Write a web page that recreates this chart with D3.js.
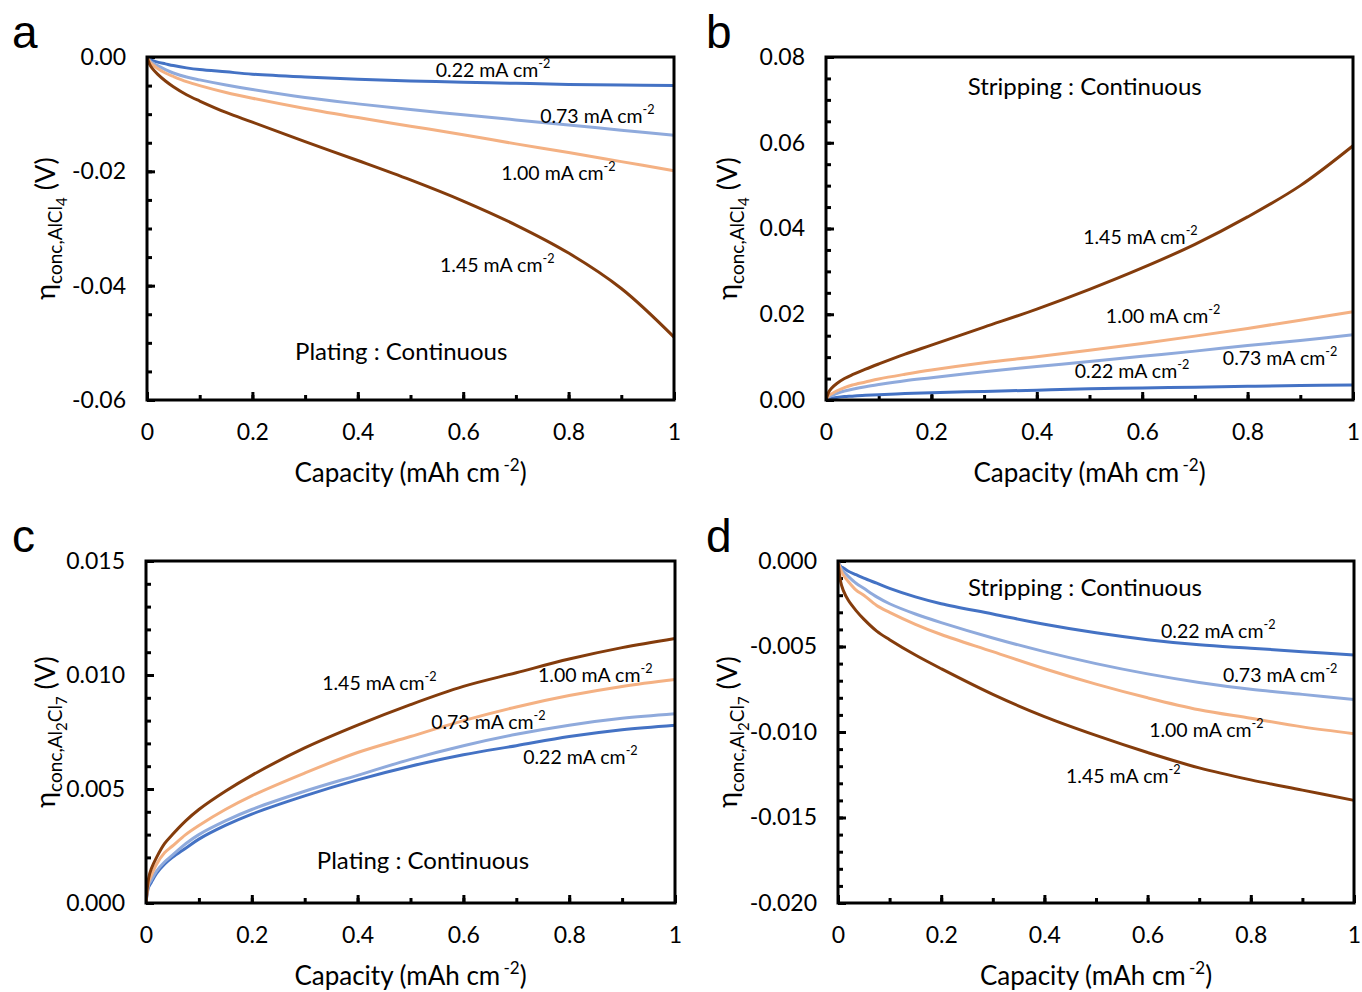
<!DOCTYPE html>
<html>
<head>
<meta charset="utf-8">
<script src="https://cdn.jsdelivr.net/npm/d3@7"></script>
<style>
body{margin:0;background:#fff}
text{font-family:Lato,"Open Sans",sans-serif;fill:#000}
</style>
</head>
<body>
<svg width="1362" height="992"></svg>
<script>
// capacity grid (mAh cm-2) shared by every curve
var capacity = [0, 0.005, 0.01, 0.02, 0.035, 0.05, 0.075, 0.1, 0.15, 0.2, 0.3, 0.4, 0.5, 0.6, 0.7, 0.8, 0.9, 1]
var currents = ["0.22", "0.73", "1.00", "1.45"]
var colors = ["#4472C4", "#8FAADC", "#F4B183", "#843C0C"]

// a : AlCl4, plating
var a022 = [0, -0.0004, -0.0006, -0.0009, -0.0012, -0.0015, -0.0019, -0.0022, -0.0026, -0.0030, -0.0035, -0.0039, -0.0042, -0.0044, -0.0046, -0.0048, -0.0049, -0.0050]
var a073 = [0, -0.0006, -0.0010, -0.0015, -0.0022, -0.0028, -0.0035, -0.0040, -0.0049, -0.0057, -0.0071, -0.0082, -0.0092, -0.0101, -0.0110, -0.0119, -0.0128, -0.0137]
var a100 = [0, -0.0008, -0.0013, -0.0020, -0.0028, -0.0034, -0.0043, -0.0050, -0.0062, -0.0072, -0.0090, -0.0106, -0.0121, -0.0136, -0.0152, -0.0167, -0.0183, -0.0199]
var a145 = [0, -0.0013, -0.0020, -0.0030, -0.0042, -0.0052, -0.0066, -0.0077, -0.0097, -0.0114, -0.0148, -0.0181, -0.0215, -0.0252, -0.0294, -0.0343, -0.0405, -0.0490]

// b : AlCl4, stripping
var b022 = [0, 0.0003, 0.0004, 0.0006, 0.0008, 0.0009, 0.0011, 0.0012, 0.0015, 0.0017, 0.0020, 0.0023, 0.0026, 0.0028, 0.0030, 0.0032, 0.0034, 0.0035]
var b073 = [0, 0.0007, 0.0010, 0.0015, 0.0021, 0.0025, 0.0031, 0.0036, 0.0045, 0.0052, 0.0066, 0.0078, 0.0090, 0.0102, 0.0114, 0.0127, 0.0139, 0.0152]
var b100 = [0, 0.0010, 0.0014, 0.0021, 0.0029, 0.0035, 0.0042, 0.0049, 0.0060, 0.0070, 0.0087, 0.0101, 0.0116, 0.0132, 0.0149, 0.0167, 0.0186, 0.0206]
var b145 = [0, 0.0018, 0.0027, 0.0038, 0.0050, 0.0059, 0.0072, 0.0084, 0.0107, 0.0128, 0.0170, 0.0212, 0.0258, 0.0308, 0.0363, 0.0427, 0.0500, 0.0593]

// c : Al2Cl7, plating
var c022 = [0, 0.0007, 0.0009, 0.0013, 0.0017, 0.0020, 0.0024, 0.0028, 0.0034, 0.0039, 0.0047, 0.0054, 0.0060, 0.0065, 0.0069, 0.0073, 0.0076, 0.0078]
var c073 = [0, 0.0008, 0.0010, 0.0014, 0.0018, 0.0021, 0.0026, 0.0030, 0.0036, 0.0041, 0.0049, 0.0056, 0.0063, 0.0069, 0.0074, 0.0078, 0.0081, 0.0083]
var c100 = [0, 0.0009, 0.0012, 0.0017, 0.0022, 0.0025, 0.0030, 0.0034, 0.0041, 0.0047, 0.0057, 0.0066, 0.0073, 0.0080, 0.0086, 0.0091, 0.0095, 0.0098]
var c145 = [0, 0.0011, 0.0015, 0.0020, 0.0026, 0.0030, 0.0036, 0.0041, 0.0049, 0.0056, 0.0068, 0.0078, 0.0087, 0.0095, 0.0101, 0.0107, 0.0112, 0.0116]

// d : Al2Cl7, stripping
var d022 = [0, -0.0003, -0.0004, -0.0006, -0.0008, -0.0010, -0.0013, -0.0016, -0.0021, -0.0025, -0.0031, -0.0037, -0.0042, -0.0046, -0.0049, -0.0051, -0.0053, -0.0055]
var d073 = [0, -0.0004, -0.0006, -0.0009, -0.0013, -0.0016, -0.0021, -0.0025, -0.0031, -0.0036, -0.0045, -0.0053, -0.0060, -0.0066, -0.0071, -0.0075, -0.0078, -0.0081]
var d100 = [0, -0.0005, -0.0008, -0.0012, -0.0017, -0.0020, -0.0026, -0.0030, -0.0037, -0.0043, -0.0053, -0.0063, -0.0072, -0.0080, -0.0087, -0.0092, -0.0097, -0.0101]
var d145 = [0, -0.0012, -0.0017, -0.0023, -0.0029, -0.0034, -0.0041, -0.0046, -0.0055, -0.0063, -0.0078, -0.0091, -0.0102, -0.0112, -0.0121, -0.0128, -0.0134, -0.0140]

var xTicks = [0, 0.2, 0.4, 0.6, 0.8, 1]
var xTickLabels = ["0", "0.2", "0.4", "0.6", "0.8", "1"]
var aTicks = [0, -0.02, -0.04, -0.06]
var aTickLabels = ["0.00", "-0.02", "-0.04", "-0.06"]
var bTicks = [0, 0.02, 0.04, 0.06, 0.08]
var bTickLabels = ["0.00", "0.02", "0.04", "0.06", "0.08"]
var cTicks = [0, 0.005, 0.01, 0.015]
var cTickLabels = ["0.000", "0.005", "0.010", "0.015"]
var dTicks = [0, -0.005, -0.01, -0.015, -0.02]
var dTickLabels = ["0.000", "-0.005", "-0.010", "-0.015", "-0.020"]

var alcl4 = [["conc,AlCl", 1], ["4", 2]]
var al2cl7 = [["conc,Al", 1], ["2", 2], ["Cl", 1], ["7", 2]]

// panel layout (pixels) and where the annotations sit (data units)
var panels = [
  {id: "a", box: [147, 57, 527, 343], dom: [-0.06, 0], ticks: aTicks, tickLabels: aTickLabels, minor: 0.005,
   series: [a022, a073, a100, a145], ion: alcl4,
   labelPos: [[0.548, -0.0023], [0.746, -0.0103], [0.672, -0.0203], [0.556, -0.0364]],
   note: "Plating : Continuous", notePos: [0.281, -0.0516]},
  {id: "b", box: [826, 57, 527, 343], dom: [0, 0.08], ticks: bTicks, tickLabels: bTickLabels, minor: 0.005,
   series: [b022, b073, b100, b145], ion: alcl4,
   labelPos: [[0.472, 0.0068], [0.753, 0.0098], [0.531, 0.0196], [0.488, 0.0380]],
   note: "Stripping : Continuous", notePos: [0.269, 0.0732]},
  {id: "c", box: [146, 561, 529, 342], dom: [0, 0.015], ticks: cTicks, tickLabels: cTickLabels, minor: 0.001,
   series: [c022, c073, c100, c145], ion: al2cl7,
   labelPos: [[0.713, 0.0064], [0.539, 0.00794], [0.741, 0.0100], [0.333, 0.00965]],
   note: "Plating : Continuous", notePos: [0.323, 0.00184]},
  {id: "d", box: [838, 561, 516, 342], dom: [-0.02, 0], ticks: dTicks, tickLabels: dTickLabels, minor: 0.001,
   series: [d022, d073, d100, d145], ion: al2cl7,
   labelPos: [[0.626, -0.0041], [0.746, -0.00667], [0.603, -0.00988], [0.442, -0.01257]],
   note: "Stripping : Continuous", notePos: [0.252, -0.00158]}
]

var svg = d3.select("svg")

function supLabel(sel, main, sup, size) {
  sel.append("tspan").text(main)
  sel.append("tspan").text(sup).attr("dy", -size * 0.45).style("font-size", (size * 0.65) + "px")
}

panels.forEach(function(p, pi) {
  var L = p.box[0], T = p.box[1], W = p.box[2], H = p.box[3]
  var x = d3.scaleLinear().domain([0, 1]).range([L, L + W])
  var y = d3.scaleLinear().domain(p.dom).range([T + H, T])
  var g = svg.append("g")

  svg.append("clipPath").attr("id", "clip" + p.id)
    .append("rect").attr("x", L).attr("y", T - 2).attr("width", W + 2).attr("height", H + 4)

  // minor ticks
  var minorY = d3.range(Math.round((p.dom[1] - p.dom[0]) / p.minor) + 1).map(function(i) { return p.dom[0] + i * p.minor })
  g.append("g").attr("transform", "translate(" + L + ",0)")
    .call(d3.axisLeft(y).tickValues(minorY).tickSize(-5).tickFormat(""))
  g.append("g").attr("transform", "translate(0," + (T + H) + ")")
    .call(d3.axisBottom(x).tickValues(d3.range(11).map(function(i) { return i / 10 })).tickSize(-5).tickFormat(""))

  // major ticks + labels
  g.append("g").attr("transform", "translate(" + L + ",0)")
    .call(d3.axisLeft(y).tickValues(p.ticks).tickSize(-8).tickPadding(21)
      .tickFormat(function(d, i) { return p.tickLabels[i] }))
  g.append("g").attr("transform", "translate(0," + (T + H) + ")")
    .call(d3.axisBottom(x).tickValues(xTicks).tickSize(-8).tickPadding(24)
      .tickFormat(function(d, i) { return xTickLabels[i] }))

  g.selectAll(".domain").remove()
  g.selectAll(".tick line").attr("stroke", "#000").attr("stroke-width", 3)
  g.selectAll(".tick text").style("font-size", "23px").style("font-family", "Lato, 'Open Sans', sans-serif").attr("fill", "#000")

  // curves
  var line = d3.line()
    .x(function(d, i) { return x(capacity[i]) })
    .y(function(d) { return y(d) })
    .curve(d3.curveCatmullRom.alpha(0.5))
  g.append("g").attr("clip-path", "url(#clip" + p.id + ")")
    .selectAll("path").data(p.series).enter().append("path")
    .attr("d", line)
    .attr("fill", "none")
    .attr("stroke", function(d, i) { return colors[i] })
    .attr("stroke-width", 3)

  // frame
  g.append("rect").attr("x", L).attr("y", T).attr("width", W).attr("height", H)
    .attr("fill", "none").attr("stroke", "#000").attr("stroke-width", 3)

  // curve labels
  p.labelPos.forEach(function(pos, i) {
    var t = g.append("text").attr("x", x(pos[0])).attr("y", y(pos[1])).attr("dy", "0.35em")
      .style("font-size", "19.5px")
    supLabel(t, currents[i] + " mA cm", "-2", 19.5)
  })
  g.append("text").attr("x", x(p.notePos[0])).attr("y", y(p.notePos[1])).attr("dy", "0.35em")
    .style("font-size", "24px").text(p.note)

  // x title
  var xt = g.append("text").attr("x", L + W / 2).attr("y", T + H + 82)
    .attr("text-anchor", "middle").style("font-size", "26px")
  xt.append("tspan").text("Capacity (mAh cm\u2009")
  xt.append("tspan").text("-2").attr("dy", -11).style("font-size", "17px")
  xt.append("tspan").text(")").attr("dy", 11)

  // y title
  var yx = pi % 2 == 0 ? 55 : 737
  var yt = g.append("text").attr("text-anchor", "middle")
    .attr("transform", "translate(" + yx + "," + (T + H / 2) + ") rotate(-90)")
    .style("font-size", "27px")
  yt.append("tspan").text("\u03b7")
  var off = [0, 7, 12], lvl = 0
  p.ion.forEach(function(part) {
    yt.append("tspan").text(part[0]).attr("dy", off[part[1]] - off[lvl])
      .style("font-size", part[1] == 1 ? "19px" : "15px")
    lvl = part[1]
  })
  yt.append("tspan").text(" (V)").attr("dy", -off[lvl])

  // panel letter
  svg.append("text").attr("x", pi % 2 == 0 ? 12 : 706).attr("y", pi < 2 ? 48 : 552)
    .style("font-family", "'Liberation Sans', Arial, sans-serif").style("font-size", "46px")
    .text(p.id)
})
</script>
</body>
</html>
